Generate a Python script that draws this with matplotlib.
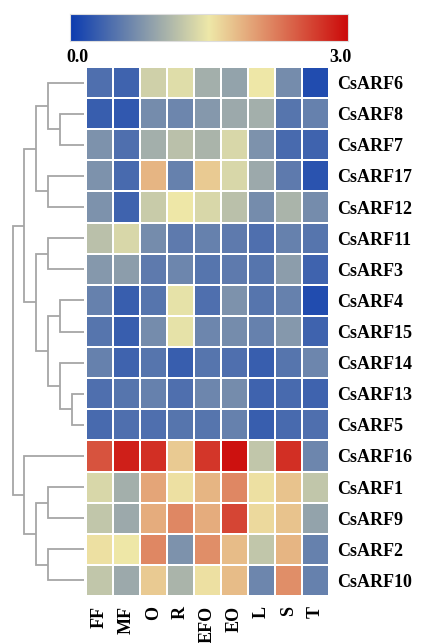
import numpy as np
import matplotlib
matplotlib.use("Agg")
import matplotlib.pyplot as plt
from matplotlib.colors import LinearSegmentedColormap

columns = ["FF", "MF", "O", "R", "EFO", "EO", "L", "S", "T"]
rows = ["CsARF6", "CsARF8", "CsARF7", "CsARF17", "CsARF12", "CsARF11", "CsARF3",
        "CsARF4", "CsARF15", "CsARF14", "CsARF13", "CsARF5", "CsARF16", "CsARF1",
        "CsARF9", "CsARF2", "CsARF10"]

values = [
    [0.45, 0.35, 1.30, 1.40, 1.00, 0.90, 1.50, 0.70, 0.15],  # CsARF6
    [0.30, 0.25, 0.70, 0.65, 0.80, 0.95, 1.00, 0.50, 0.60],  # CsARF8
    [0.75, 0.45, 1.00, 1.15, 1.05, 1.35, 0.75, 0.40, 0.35],  # CsARF7
    [0.75, 0.40, 1.85, 0.60, 1.70, 1.35, 0.95, 0.55, 0.20],  # CsARF17
    [0.75, 0.35, 1.25, 1.50, 1.35, 1.15, 0.70, 1.05, 0.70],  # CsARF12
    [1.15, 1.35, 0.70, 0.55, 0.60, 0.55, 0.45, 0.60, 0.50],  # CsARF11
    [0.80, 0.85, 0.55, 0.65, 0.50, 0.55, 0.50, 0.85, 0.35],  # CsARF3
    [0.60, 0.30, 0.50, 1.45, 0.45, 0.75, 0.50, 0.60, 0.15],  # CsARF4
    [0.50, 0.30, 0.70, 1.45, 0.65, 0.70, 0.60, 0.80, 0.35],  # CsARF15
    [0.60, 0.35, 0.50, 0.30, 0.50, 0.45, 0.30, 0.50, 0.65],  # CsARF14
    [0.45, 0.50, 0.60, 0.45, 0.65, 0.70, 0.35, 0.40, 0.35],  # CsARF13
    [0.40, 0.45, 0.45, 0.50, 0.50, 0.60, 0.30, 0.40, 0.45],  # CsARF5
    [2.50, 2.85, 2.75, 1.70, 2.70, 2.95, 1.20, 2.75, 0.65],  # CsARF16
    [1.35, 1.00, 1.95, 1.55, 1.85, 2.15, 1.55, 1.75, 1.20],  # CsARF1
    [1.20, 0.95, 1.90, 2.15, 1.90, 2.60, 1.60, 1.75, 0.90],  # CsARF9
    [1.55, 1.50, 2.15, 0.75, 2.10, 1.80, 1.20, 1.85, 0.60],  # CsARF2
    [1.20, 0.95, 1.70, 1.05, 1.55, 1.80, 0.65, 2.10, 0.60],  # CsARF10
]

# dendrogram merges: (left, right, level); leaves are row indices 0..16,
# merge k is referred to as 17 + k
merges = [
    (1, 2, 2), (0, 17, 3), (3, 4, 3), (18, 19, 4),
    (5, 6, 3), (7, 8, 2), (10, 11, 1), (9, 23, 2), (22, 24, 3), (21, 25, 4),
    (20, 26, 5), (13, 14, 3), (15, 16, 3), (28, 29, 4), (12, 30, 5), (27, 31, 6),
]

vmin, vmax = 0.0, 3.0
cmap = LinearSegmentedColormap.from_list(
    "byr", ["#0c3cb0", "#eee8a8", "#cc0a0a"])

W, H = 421, 643
fig = plt.figure(figsize=(W / 100, H / 100), dpi=100)

def fr(x0, y0, x1, y1):
    return [x0 / W, 1 - y1 / H, (x1 - x0) / W, (y1 - y0) / H]

font = dict(family="Liberation Serif", weight="bold", size=13)

# heatmap
ax = fig.add_axes(fr(86, 67, 329, 596))
data = np.array(values)
ax.pcolormesh(np.arange(len(columns) + 1), np.arange(len(rows) + 1), data,
              cmap=cmap, vmin=vmin, vmax=vmax, edgecolor="white", linewidth=1.2)
ax.set_xlim(0, len(columns))
ax.set_ylim(len(rows), 0)
ax.set_xticks(np.arange(len(columns)) + 0.5)
ax.set_xticklabels(columns, rotation=90, fontdict=font)
ax.set_yticks(np.arange(len(rows)) + 0.5)
ax.set_yticklabels(rows, fontdict=font)
ax.yaxis.tick_right()
ax.tick_params(axis="both", length=0)
ax.tick_params(axis="y", pad=6)
ax.tick_params(axis="x", pad=7)
for s in ax.spines.values():
    s.set_visible(False)

# dendrogram
dax = fig.add_axes(fr(0, 67, 86, 596))
n = len(rows)
pos = {i: (i + 0.5, 0.0) for i in range(n)}
for k, (a, b, lvl) in enumerate(merges):
    ya, ha = pos[a]
    yb, hb = pos[b]
    dax.plot([ha, lvl, lvl, hb], [ya, ya, yb, yb], color="#a6a6a6", lw=1.3,
             solid_capstyle="butt", solid_joinstyle="miter")
    pos[n + k] = ((ya + yb) / 2, lvl)
dax.set_ylim(n, 0)
dax.set_xlim(7.05, -0.17)
dax.axis("off")

# colorbar
cax = fig.add_axes(fr(70, 14, 348, 41))
grad = np.linspace(vmin, vmax, 256).reshape(1, -1)
cax.imshow(grad, aspect="auto", cmap=cmap, vmin=vmin, vmax=vmax,
           extent=[vmin, vmax, 0, 1])
cax.set_xticks([])
cax.set_yticks([])
for s in cax.spines.values():
    s.set_color("#dddddd")
    s.set_linewidth(0.8)
cax.text(0.08, -0.3, "0.0", ha="center", va="top", transform=cax.get_xaxis_transform(), **font)
cax.text(2.92, -0.3, "3.0", ha="center", va="top", transform=cax.get_xaxis_transform(), **font)

fig.savefig("out.png", dpi=100)
